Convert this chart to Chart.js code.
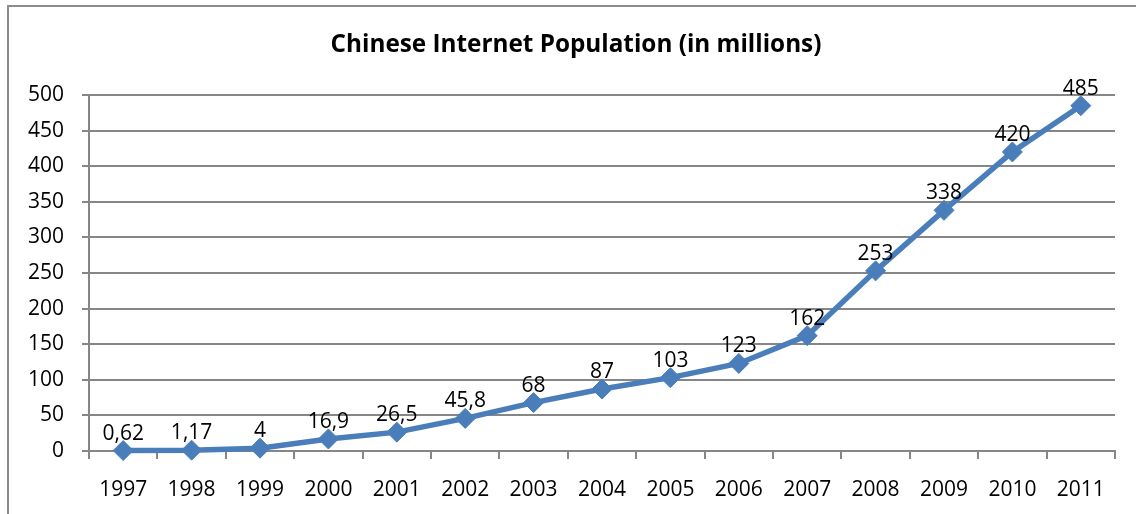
<!DOCTYPE html>
<html>
<head>
<meta charset="utf-8">
<script src="https://cdn.jsdelivr.net/npm/chart.js@4"></script>
<style>
html,body{margin:0;padding:0;background:#fff;}
#wrap{position:relative;width:1136px;height:514px;}
canvas{display:block;}
</style>
</head>
<body>
<div id="wrap"><canvas id="c" width="1136" height="514"></canvas></div>
<script>
const years = ['1997','1998','1999','2000','2001','2002','2003','2004','2005','2006','2007','2008','2009','2010','2011'];
const users = [0.62, 1.17, 4, 16.9, 26.5, 45.8, 68, 87, 103, 123, 162, 253, 338, 420, 485];
const valueLabels = ['0,62','1,17','4','16,9','26,5','45,8','68','87','103','123','162','253','338','420','485'];
const titleText = 'Chinese Internet Population (in millions)';

const FONT = '"Open Sans", Lato, sans-serif';
const GRID = '#868686';
const BLUE = '#4A7EBB';

const framePlugin = {
  id: 'frame',
  beforeDraw(chart) {
    const ctx = chart.ctx;
    ctx.save();
    ctx.fillStyle = '#fff';
    ctx.fillRect(0, 0, chart.width, chart.height);
    ctx.strokeStyle = '#8c8c8c';
    ctx.lineWidth = 2;
    ctx.beginPath();
    ctx.moveTo(8, chart.height + 2);
    ctx.lineTo(8, 6);
    ctx.lineTo(chart.width + 2, 6);
    ctx.stroke();
    ctx.fillStyle = '#000';
    ctx.font = 'bold 20px ' + FONT;
    const w = ctx.measureText(titleText).width;
    const size = Math.round(20 * 490 / w * 10) / 10;
    ctx.font = 'bold ' + size + 'px ' + FONT;
    ctx.textAlign = 'center';
    ctx.textBaseline = 'middle';
    ctx.fillText(titleText, 576, 45);
    ctx.restore();
  }
};

const labelPlugin = {
  id: 'valueLabels',
  afterDatasetsDraw(chart) {
    const ctx = chart.ctx;
    const meta = chart.getDatasetMeta(0);
    ctx.save();
    ctx.fillStyle = '#000';
    ctx.font = '21px ' + FONT;
    ctx.textAlign = 'center';
    ctx.textBaseline = 'alphabetic';
    meta.data.forEach((pt, i) => {
      ctx.fillText(valueLabels[i], pt.x, pt.y - 11);
    });
    ctx.restore();
  }
};

new Chart(document.getElementById('c'), {
  type: 'line',
  data: {
    labels: years,
    datasets: [{
      data: users,
      borderColor: BLUE,
      backgroundColor: BLUE,
      borderWidth: 5.5,
      pointStyle: 'rectRot',
      pointRadius: 10,
      pointBorderWidth: 1,
      pointBackgroundColor: BLUE,
      pointBorderColor: BLUE,
      tension: 0,
      clip: false
    }]
  },
  options: {
    responsive: false,
    animation: false,
    layout: { padding: { left: 0, right: 21, top: 95, bottom: 0 } },
    plugins: { legend: { display: false }, tooltip: { enabled: false }, title: { display: false } },
    scales: {
      x: {
        type: 'category',
        offset: true,
        grid: { offset: true, drawOnChartArea: false, color: GRID, tickLength: 8, lineWidth: 2 },
        border: { color: GRID, width: 2 },
        ticks: { color: '#000', font: { family: FONT, size: 21 }, padding: 18, maxRotation: 0, autoSkip: false },
        afterFit(s) { s.height = 63; }
      },
      y: {
        min: 0, max: 500,
        ticks: { stepSize: 50, color: '#000', font: { family: FONT, size: 21 }, padding: 18 },
        grid: { color: GRID, tickLength: 7, lineWidth: 2 },
        border: { color: GRID, width: 2 },
        afterFit(s) { s.width = 89; }
      }
    }
  },
  plugins: [framePlugin, labelPlugin]
});
</script>
</body>
</html>
